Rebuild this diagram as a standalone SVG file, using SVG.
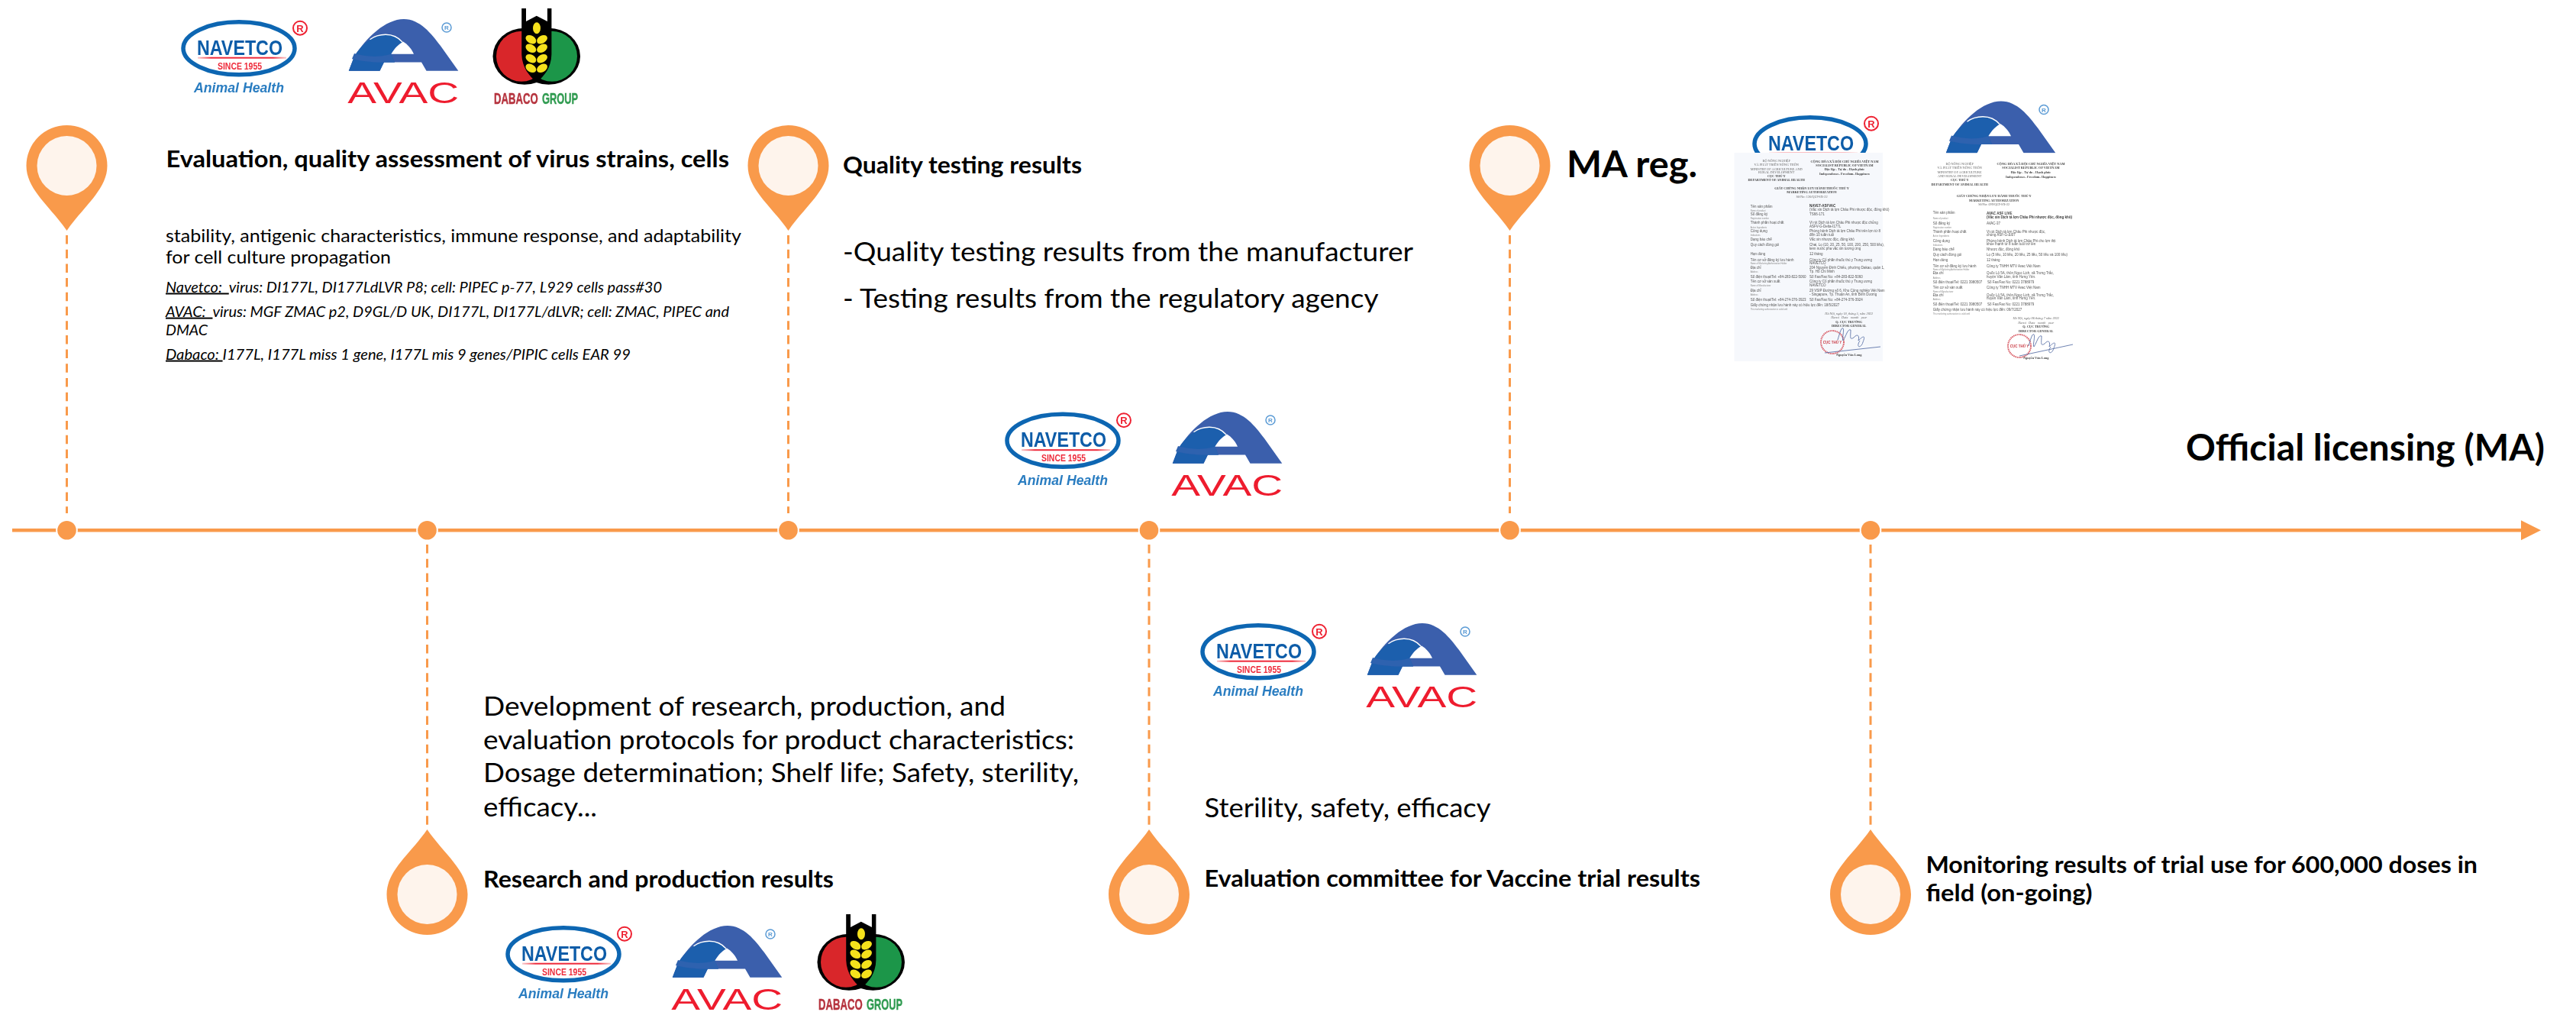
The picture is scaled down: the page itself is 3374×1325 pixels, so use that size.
<svg xmlns="http://www.w3.org/2000/svg" xmlns:xlink="http://www.w3.org/1999/xlink" width="3374" height="1325" viewBox="0 0 3374 1325">
<style>
text{font-family:Lato,"Liberation Sans",sans-serif;fill:#000;white-space:pre}
.b{font-weight:700}
.t28{font-size:30px}
.t33{font-size:35.5px}
.t21{font-size:23px}
.t46{font-size:47px}
.i{font-size:20px;font-style:italic}
.u{text-decoration:underline}
.logo{font-family:"Liberation Sans",Arial,sans-serif;font-weight:700}
.dh{font-family:"Liberation Serif",serif;font-size:4.3px;font-weight:700;fill:#444;text-anchor:middle}
.dn{font-family:"Liberation Serif",serif;font-size:4.3px;fill:#666;text-anchor:middle}
.d{font-family:"Liberation Sans",sans-serif;font-size:4.5px;fill:#555}
.db{font-family:"Liberation Sans",sans-serif;font-size:4.5px;font-weight:700;fill:#333}
.ds{font-family:"Liberation Sans",sans-serif;font-size:2.7px;fill:#888}
.dash{stroke:#F99A4B;stroke-width:3;stroke-dasharray:11.5 7.2;fill:none}
.dot{fill:#F99A4B;stroke:#fff;stroke-width:4;paint-order:stroke}
</style>
<defs>
<marker id="arrow" markerUnits="userSpaceOnUse" markerWidth="27" markerHeight="28" refX="0" refY="14" orient="auto"><path d="M0,1 L26,14 L0,27 Z" fill="#F99A4B"/></marker>
<filter id="soft" x="-5%" y="-5%" width="110%" height="110%"><feGaussianBlur stdDeviation="0.45"/></filter>
<g id="pinbody">
<path d="M-53,0 A53,53 0 1 1 53,0 C53,31 22,53 0,85 C-22,53 -53,31 -53,0 Z" fill="#F99A4B"/>
<circle r="39" fill="#FEF4EC"/>
</g>
<linearGradient id="redfade" x1="0" x2="1" y1="0" y2="0"><stop offset="0" stop-color="#F04A50" stop-opacity="0.3"/><stop offset="0.15" stop-color="#EE2A3A"/><stop offset="0.85" stop-color="#EE2A3A"/><stop offset="1" stop-color="#F04A50" stop-opacity="0.3"/></linearGradient>
<g id="nv-top">
<ellipse cx="76" cy="37.3" rx="73" ry="34.5" fill="#fff" stroke="#0A66B2" stroke-width="5.5"/>
<text class="logo" x="21" y="45.5" font-size="28" textLength="112" lengthAdjust="spacingAndGlyphs" style="fill:#0B5CA8">NAVETCO</text>
<rect x="22" y="48.7" width="116" height="2" fill="url(#redfade)"/>
<circle cx="156" cy="10.7" r="9" fill="none" stroke="#EE2030" stroke-width="2"/>
<text class="logo" x="156" y="15.5" font-size="13" text-anchor="middle" style="fill:#EE2030">R</text>
</g>
<g id="nv">
<use href="#nv-top"/>
<text class="logo" x="48" y="64.5" font-size="12.5" textLength="58" lengthAdjust="spacingAndGlyphs" style="fill:#EE2A3A">SINCE 1955</text>
<text class="logo" x="17" y="95" font-size="18" font-style="italic" textLength="118" lengthAdjust="spacingAndGlyphs" style="fill:#2A7DC1">Animal Health</text>
</g>
<g id="av-a">
<path d="M1.8,68.7 L9,50 C25,25 50,1 73.9,1 C95,1 110,20 122,36 L145.3,68.7 L103.5,68.7 L97,57.5 L48,57.5 L42.5,68.7 Z" fill="#3A5FAC"/>
<path d="M1.8,68.7 L9,50 C15,40 22,33 29.5,27.7 C40,20 60,17 72,31 C65,36 60,41 57.3,46.7 L62,57.5 L48,57.5 L42.5,68.7 Z" fill="#1E5EAD"/>
<path d="M57.3,46.7 C62,39 67,34 73,30.5 C79,34 84,40 87,46.7 Z" fill="#fff"/>
<path d="M29.5,27.7 C40,20 60,17 72,31" fill="none" stroke="#fff" stroke-width="1.4"/>
<path d="M9,46 C22,50 40,52 57.3,46.7 L62,57.5 L48,57.5 C35,58 18,56 6,53 Z" fill="#2F62AF"/>
<circle cx="130" cy="12" r="6" fill="none" stroke="#5B9BD5" stroke-width="1.5"/>
<text class="logo" x="130" y="15" font-size="8" font-weight="400" text-anchor="middle" style="fill:#5B9BD5">R</text>
</g>
<g id="av">
<use href="#av-a"/>
<text x="0.3" y="110.5" font-size="38" textLength="146" lengthAdjust="spacingAndGlyphs" style="font-family:'Liberation Sans',sans-serif;fill:#EE1C2E">AVAC</text>
</g>
<g id="dab">
<ellipse cx="42" cy="62.7" rx="41.5" ry="37" fill="#000"/>
<ellipse cx="73.5" cy="62.7" rx="41.5" ry="37" fill="#000"/>
<ellipse cx="38" cy="62.7" rx="33" ry="33" fill="#D9272A"/>
<ellipse cx="78" cy="62.7" rx="33" ry="33" fill="#1E9648"/>
<path d="M38.2,0 H44 V17 L57.8,9.7 L71.9,17 V0 H77.4 V60 C77,78 68,88 58,97 C48,88 39,78 38.2,60 Z" fill="#000"/>
<g fill="#F5E11E">
<ellipse cx="58" cy="25.7" rx="5" ry="7.5"/>
<ellipse cx="50.4" cy="40.7" rx="7.5" ry="5" transform="rotate(30 50.4 40.7)"/>
<ellipse cx="65" cy="40.7" rx="7.5" ry="5" transform="rotate(-30 65 40.7)"/>
<ellipse cx="50.4" cy="52.3" rx="7.5" ry="5" transform="rotate(30 50.4 52.3)"/>
<ellipse cx="65" cy="52.3" rx="7.5" ry="5" transform="rotate(-30 65 52.3)"/>
<ellipse cx="50.4" cy="65.7" rx="7.5" ry="5" transform="rotate(30 50.4 65.7)"/>
<ellipse cx="65" cy="65.7" rx="7.5" ry="5" transform="rotate(-30 65 65.7)"/>
<ellipse cx="50.4" cy="78.3" rx="7.5" ry="5" transform="rotate(30 50.4 78.3)"/>
<ellipse cx="65" cy="78.3" rx="7.5" ry="5" transform="rotate(-30 65 78.3)"/>
</g>
<text class="logo" x="2" y="124.5" font-size="20" textLength="57.6" lengthAdjust="spacingAndGlyphs" style="fill:#B5333E;stroke:#B5333E;stroke-width:.4">DABACO</text>
<text class="logo" x="65" y="124.5" font-size="20" textLength="47" lengthAdjust="spacingAndGlyphs" style="fill:#2E9A4F;stroke:#2E9A4F;stroke-width:.4">GROUP</text>
</g>
<path id="sig" d="M2407,445 C2410,435 2412,428 2414,430 C2416,432 2412,445 2414,446 C2418,440 2420,430 2424,432 C2424,440 2422,446 2428,442 C2433,436 2436,440 2434,446 C2440,440 2444,438 2440,448 C2438,456 2430,456 2436,446" fill="none" stroke="#5D74A8" stroke-width="0.9"/>
</defs>
<rect width="3374" height="1325" fill="#fff"/>

<g id="connectors">
<line x1="16" y1="694.3" x2="3302" y2="694.3" stroke="#F99A4B" stroke-width="4.5" marker-end="url(#arrow)"/>
<line class="dash" x1="87.5" y1="308" x2="87.5" y2="672"/>
<line class="dash" x1="1032.5" y1="308" x2="1032.5" y2="672"/>
<line class="dash" x1="1977.5" y1="308" x2="1977.5" y2="672"/>
<line class="dash" x1="559.5" y1="713" x2="559.5" y2="1080"/>
<line class="dash" x1="1505" y1="713" x2="1505" y2="1080"/>
<line class="dash" x1="2450" y1="713" x2="2450" y2="1080"/>
</g>

<g id="node-evaluation">
<circle class="dot" cx="87.5" cy="694.3" r="12.3"/>
<use href="#pinbody" transform="translate(87.5,217)"/>
<g filter="url(#soft)">
<use href="#nv" transform="translate(237,26)"/>
<use href="#av" transform="translate(455,24)"/>
<use href="#dab" transform="translate(645,11)"/>
</g>
<text class="b t28" x="217.5" y="219" textLength="737.5" lengthAdjust="spacingAndGlyphs">Evaluation, quality assessment of virus strains, cells</text>
<text class="t21" x="217" y="317" textLength="754" lengthAdjust="spacingAndGlyphs">stability, antigenic characteristics, immune response, and adaptability</text>
<text class="t21" x="217" y="345" textLength="295" lengthAdjust="spacingAndGlyphs">for cell culture propagation</text>
<text class="i" x="217" y="382.5" textLength="650" lengthAdjust="spacingAndGlyphs"><tspan class="u">Navetco:  </tspan>virus: DI177L, DI177LdLVR P8; cell: PIPEC p-77, L929 cells pass#30</text>
<text class="i" x="217" y="414.6" textLength="738" lengthAdjust="spacingAndGlyphs"><tspan class="u">AVAC:  </tspan>virus: MGF ZMAC p2, D9GL/D UK, DI177L, DI177L/dLVR; cell: ZMAC, PIPEC and</text>
<text class="i" x="217" y="438.5" textLength="55" lengthAdjust="spacingAndGlyphs">DMAC</text>
<text class="i" x="217" y="470.6" textLength="609" lengthAdjust="spacingAndGlyphs"><tspan class="u">Dabaco: </tspan>I177L, I177L miss 1 gene, I177L mis 9 genes/PIPIC cells EAR 99</text>
</g>

<g id="node-research">
<circle class="dot" cx="559.5" cy="694.3" r="12.3"/>
<use href="#pinbody" transform="translate(559.5,1171) scale(1,-1)"/>
<text class="t33" x="633" y="937" textLength="684" lengthAdjust="spacingAndGlyphs">Development of research, production, and</text>
<text class="t33" x="633" y="981" textLength="774" lengthAdjust="spacingAndGlyphs">evaluation protocols for product characteristics:</text>
<text class="t33" x="633" y="1024" textLength="780" lengthAdjust="spacingAndGlyphs">Dosage determination; Shelf life; Safety, sterility,</text>
<text class="t33" x="633" y="1069" textLength="149" lengthAdjust="spacingAndGlyphs">efficacy...</text>
<text class="b t28" x="633" y="1162" textLength="459" lengthAdjust="spacingAndGlyphs">Research and production results</text>
<g filter="url(#soft)">
<use href="#nv" transform="translate(662,1212)"/>
<use href="#av" transform="translate(879,1211)"/>
<use href="#dab" transform="translate(1070,1197)"/>
</g>
</g>

<g id="node-quality">
<circle class="dot" cx="1032.5" cy="694.3" r="12.3"/>
<use href="#pinbody" transform="translate(1032.5,217)"/>
<text class="b t28" x="1104" y="227" textLength="313" lengthAdjust="spacingAndGlyphs">Quality testing results</text>
<text class="t33" x="1104" y="342" textLength="747" lengthAdjust="spacingAndGlyphs">-Quality testing results from the manufacturer</text>
<text class="t33" x="1104" y="403" textLength="701.5" lengthAdjust="spacingAndGlyphs">- Testing results from the regulatory agency</text>
<g filter="url(#soft)">
<use href="#nv" transform="translate(1316,539.5)"/>
<use href="#av" transform="translate(1534,538)"/>
</g>
</g>

<g id="node-committee">
<circle class="dot" cx="1505" cy="694.3" r="12.3"/>
<use href="#pinbody" transform="translate(1505,1171) scale(1,-1)"/>
<g filter="url(#soft)">
<use href="#nv" transform="translate(1572,816)"/>
<use href="#av" transform="translate(1789,815)"/>
</g>
<text class="t33" x="1577.5" y="1069.5" textLength="375" lengthAdjust="spacingAndGlyphs">Sterility, safety, efficacy</text>
<text class="b t28" x="1577.5" y="1161" textLength="649.5" lengthAdjust="spacingAndGlyphs">Evaluation committee for Vaccine trial results</text>
</g>

<g id="node-ma">
<circle class="dot" cx="1977.5" cy="694.3" r="12.3"/>
<use href="#pinbody" transform="translate(1977.5,217)"/>
<text class="b t46" x="2052" y="232" textLength="171" lengthAdjust="spacingAndGlyphs">MA reg.</text>
<g filter="url(#soft)">
<use href="#nv-top" transform="translate(2295,151)"/>
<use href="#av-a" transform="translate(2547,131.5)"/>
<rect x="2271.5" y="200" width="194.5" height="273" fill="#F6F8FC"/>
<rect x="2527" y="200.5" width="192" height="10" fill="#fff"/>
</g>
<g id="doc-navetco" filter="url(#soft)">
<text class="dn" x="2326.7" y="212">BỘ NÔNG NGHIỆP</text>
<text class="dn" x="2326.7" y="217.3">VÀ PHÁT TRIỂN NÔNG THÔN</text>
<text class="dn" x="2326.7" y="222.7">MINISTRY OF AGRICULTURE AND</text>
<text class="dn" x="2326.7" y="226.7">RURAL DEVELOPMENT</text>
<text class="dh" x="2326.7" y="232.3">CỤC THÚ Y</text>
<text class="dh" x="2326.7" y="237.3">DEPARTMENT OF ANIMAL HEALTH</text>
<text class="dh" x="2416" y="213.3">CỘNG HÒA XÃ HỘI CHỦ NGHĨA VIỆT NAM</text>
<text class="dh" x="2416" y="217.8">SOCIALIST REPUBLIC OF VIETNAM</text>
<text class="dh" x="2416" y="223.3">Độc lập - Tự do - Hạnh phúc</text>
<text class="dh" x="2416" y="229">Independence- Freedom- Happiness</text>
<text class="dh" x="2373" y="248.3">GIẤY CHỨNG NHẬN LƯU HÀNH THUỐC THÚ Y</text>
<text class="dh" x="2373" y="253.3">MARKETING AUTHORIZATION</text>
<text class="dn" x="2373" y="259.3">Số/No: 136/QLT-SX-22</text>
<text class="d" x="2292.7" y="271.7">Tên sản phẩm</text><text class="ds" x="2292.7" y="277">Name of product</text>
<text class="db" x="2370" y="271">NAVET-ASFVAC</text><text class="d" x="2370" y="275.5">(Vắc xin Dịch tả lợn Châu Phi nhược độc, đông khô)</text>
<text class="d" x="2292.7" y="282">Số đăng ký</text><text class="ds" x="2292.7" y="287">Registration number</text><text class="d" x="2370" y="282">TS66-171</text>
<text class="d" x="2292.7" y="293">Thành phần hoạt chất</text><text class="ds" x="2292.7" y="299">Active Ingredients</text>
<text class="d" x="2370" y="293">Vi rút Dịch tả lợn Châu Phi nhược độc chủng</text><text class="d" x="2370" y="297.5">ASFV-G-Delta-I177L</text>
<text class="d" x="2292.7" y="304">Công dụng</text><text class="ds" x="2292.7" y="309">Indications</text>
<text class="d" x="2370" y="304">Phòng bệnh Dịch tả lợn Châu Phi trên lợn từ 8</text><text class="d" x="2370" y="309">đến 10 tuần tuổi</text>
<text class="d" x="2292.7" y="315">Dạng bào chế</text><text class="d" x="2370" y="315">Vắc xin nhược độc, đông khô</text>
<text class="d" x="2292.7" y="322">Quy cách đóng gói</text><text class="d" x="2370" y="322">Chai, Lọ (10, 20, 25, 50, 100, 200, 250, 500 liều),</text><text class="d" x="2370" y="326.5">kèm nước pha vắc xin tương ứng</text>
<text class="d" x="2292.7" y="334">Hạn dùng</text><text class="d" x="2370" y="334">12 tháng</text>
<text class="d" x="2292.7" y="342">Tên cơ sở đăng ký lưu hành</text><text class="ds" x="2292.7" y="345.5">Name of Marketing Authorization Holder</text>
<text class="d" x="2370" y="342">Công ty Cổ phần thuốc thú y Trung ương</text><text class="d" x="2370" y="346">NAVETCO</text>
<text class="d" x="2292.7" y="352">Địa chỉ</text><text class="ds" x="2292.7" y="357">Address</text>
<text class="d" x="2370" y="352">204 Nguyễn Đình Chiểu, phường Dakao, quận 1,</text><text class="d" x="2370" y="356.5">Tp. Hồ Chí Minh</text>
<text class="d" x="2292.7" y="364">Số điện thoại/Tel: +84-283-822-5060</text><text class="d" x="2370" y="364">Số Fax/Fax No: +84-283-822-5060</text>
<text class="d" x="2292.7" y="370">Tên cơ sở sản xuất</text><text class="ds" x="2292.7" y="375">Name of Manufacturer</text>
<text class="d" x="2370" y="370">Công ty Cổ phần thuốc thú y Trung ương</text><text class="d" x="2370" y="374.5">NAVETCO</text>
<text class="d" x="2292.7" y="382">Địa chỉ</text><text class="ds" x="2292.7" y="387">Address</text>
<text class="d" x="2370" y="382">29 VSIP Đường số 6, Khu Công nghiệp Việt Nam</text><text class="d" x="2370" y="387">- Singapore, Tp. Thuận An, tỉnh Bình Dương</text>
<text class="d" x="2292.7" y="394">Số điện thoại/Tel: +84-274-376-3923</text><text class="d" x="2370" y="394">Số Fax/Fax No: +84-274-376-3924</text>
<text class="d" x="2292.7" y="401">Giấy chứng nhận lưu hành này có hiệu lực đến: 18/5/2027</text>
<text class="ds" x="2292.7" y="406">This marketing authorization is valid until</text>
<text class="dn" x="2421.7" y="412" font-style="italic">Hà Nội, ngày 18, tháng 5, năm 2022</text>
<text class="dn" x="2421.7" y="417" font-style="italic">Hanoi   Date   month   year</text>
<text class="dh" x="2421.7" y="422.5">Q. CỤC TRƯỞNG</text>
<text class="dh" x="2421.7" y="427.5">DIRECTOR GENERAL</text>
<circle cx="2400" cy="448" r="15" fill="none" stroke="#D9606A" stroke-width="2" stroke-dasharray="1.5 0.8"/>
<text class="db" x="2400" y="450" text-anchor="middle" style="fill:#C8353F">CỤC THÚ Y</text>
<use href="#sig"/>
<line x1="2390" y1="462" x2="2463" y2="454" stroke="#5D74A8" stroke-width="0.9"/>
<text class="dh" x="2421.7" y="466">Nguyễn Văn Long</text>
</g>
<g id="doc-avac" filter="url(#soft)">
<text class="dn" x="2566.7" y="215.7">BỘ NÔNG NGHIỆP</text>
<text class="dn" x="2566.7" y="221">VÀ PHÁT TRIỂN NÔNG THÔN</text>
<text class="dn" x="2566.7" y="226.7">MINISTRY OF AGRICULTURE</text>
<text class="dn" x="2566.7" y="231.7">AND RURAL DEVELOPMENT</text>
<text class="dh" x="2566.7" y="237.3">CỤC THÚ Y</text>
<text class="dh" x="2566.7" y="242.7">DEPARTMENT OF ANIMAL HEALTH</text>
<text class="dh" x="2660" y="215.7">CỘNG HÒA XÃ HỘI CHỦ NGHĨA VIỆT NAM</text>
<text class="dh" x="2660" y="220.7">SOCIALIST REPUBLIC OF VIETNAM</text>
<text class="dh" x="2660" y="227.3">Độc lập - Tự do - Hạnh phúc</text>
<text class="dh" x="2660" y="233.3">Independence- Freedom- Happiness</text>
<text class="dh" x="2611.7" y="258.3">GIẤY CHỨNG NHẬN LƯU HÀNH THUỐC THÚ Y</text>
<text class="dh" x="2611.7" y="263.7">MARKETING AUTHORIZATION</text>
<text class="dn" x="2611.7" y="269">Số/No: 099/QLT-SX-22</text>
<text class="d" x="2531.7" y="280.3">Tên sản phẩm</text><text class="ds" x="2531.7" y="287">Name of product</text>
<text class="db" x="2602" y="280.7">AVAC ASF LIVE</text><text class="db" x="2602" y="285.7">(Vắc xin Dịch tả lợn Châu Phi nhược độc, đông khô)</text>
<text class="d" x="2531.7" y="293.7">Số đăng ký</text><text class="ds" x="2531.7" y="299">Registration number</text><text class="d" x="2602" y="293.7">AVAC-37</text>
<text class="d" x="2531.7" y="305">Thành phần hoạt chất</text><text class="ds" x="2531.7" y="310">Active Ingredients</text>
<text class="d" x="2602" y="305">Vi rút Dịch tả lợn Châu Phi nhược độc,</text><text class="d" x="2602" y="309.3">chủng ASF-G-ΔI07</text>
<text class="d" x="2531.7" y="316.7">Công dụng</text><text class="ds" x="2531.7" y="321.5">Indications</text>
<text class="d" x="2602" y="316.7">Phòng bệnh Dịch tả lợn Châu Phi cho lợn thịt</text><text class="d" x="2602" y="321">khỏe mạnh từ 8 tuần tuổi trở lên</text>
<text class="d" x="2531.7" y="328.3">Dạng bào chế</text><text class="d" x="2602" y="328.3">Nhược độc, đông khô</text>
<text class="d" x="2531.7" y="335">Quy cách đóng gói</text><text class="d" x="2602" y="335">Lọ (5 liều, 10 liều, 20 liều, 25 liều, 50 liều và 100 liều)</text>
<text class="d" x="2531.7" y="341.7">Hạn dùng</text><text class="d" x="2602" y="341.7">12 tháng</text>
<text class="d" x="2531.7" y="349.7">Tên cơ sở đăng ký lưu hành</text><text class="ds" x="2531.7" y="353.7">Name of Marketing Authorization Holder</text><text class="d" x="2602" y="349.7">Công ty TNHH MTV Avac Việt Nam</text>
<text class="d" x="2531.7" y="359">Địa chỉ</text><text class="ds" x="2531.7" y="364.5">Address</text>
<text class="d" x="2602" y="359">Quốc Lộ 5A, thôn Ngọc Lịch, xã Trưng Trắc,</text><text class="d" x="2602" y="364">huyện Văn Lâm, tỉnh Hưng Yên.</text>
<text class="d" x="2531.7" y="370.7">Số điện thoại/Tel: 0221 3980507</text><text class="d" x="2603" y="370.7">Số Fax/Fax No: 0221 3788979</text>
<text class="d" x="2531.7" y="378">Tên cơ sở sản xuất</text><text class="ds" x="2531.7" y="382.7">Name of Manufacturer</text><text class="d" x="2602" y="378">Công ty TNHH MTV Avac Việt Nam</text>
<text class="d" x="2531.7" y="387.7">Địa chỉ</text><text class="ds" x="2531.7" y="393">Address</text>
<text class="d" x="2602" y="387.7">Quốc Lộ 5A, thôn Ngọc Lịch, xã Trưng Trắc,</text><text class="d" x="2602" y="392.3">huyện Văn Lâm, tỉnh Hưng Yên.</text>
<text class="d" x="2531.7" y="400.3">Số điện thoại/Tel: 0221 3980507</text><text class="d" x="2603" y="400.3">Số Fax/Fax No: 0221 3788979</text>
<text class="d" x="2531.7" y="406.7">Giấy chứng nhận lưu hành này có hiệu lực đến: 09/7/2027</text>
<text class="ds" x="2531.7" y="412.3">This marketing authorization is valid until</text>
<text class="dn" x="2666.7" y="418.3" font-style="italic">Hà Nội, ngày 06 tháng 7 năm 2022</text>
<text class="dn" x="2666.7" y="423.7" font-style="italic">Hanoi   Date   month   year</text>
<text class="dh" x="2666.7" y="429">Q. CỤC TRƯỞNG</text>
<text class="dh" x="2666.7" y="435">DIRECTOR GENERAL</text>
<circle cx="2645" cy="453" r="15" fill="none" stroke="#D9606A" stroke-width="2" stroke-dasharray="1.5 0.8"/>
<text class="db" x="2645" y="455" text-anchor="middle" style="fill:#C8353F">CỤC THÚ Y</text>
<use href="#sig" transform="translate(250,8)"/>
<line x1="2645" y1="466" x2="2715" y2="451" stroke="#5D74A8" stroke-width="0.9"/>
<text class="dh" x="2666.7" y="470">Nguyễn Văn Long</text>
</g>
</g>

<g id="node-monitoring">
<circle class="dot" cx="2450" cy="694.3" r="12.3"/>
<use href="#pinbody" transform="translate(2450,1171) scale(1,-1)"/>
<text class="b t28" x="2522.4" y="1142.7" textLength="722.6" lengthAdjust="spacingAndGlyphs">Monitoring results of trial use for 600,000 doses in</text>
<text class="b t28" x="2522.4" y="1180" textLength="218" lengthAdjust="spacingAndGlyphs">field (on-going)</text>
</g>

<g id="label-licensing">
<text class="b t46" x="2863" y="603" textLength="470" lengthAdjust="spacingAndGlyphs">Official licensing (MA)</text>
</g>
</svg>
